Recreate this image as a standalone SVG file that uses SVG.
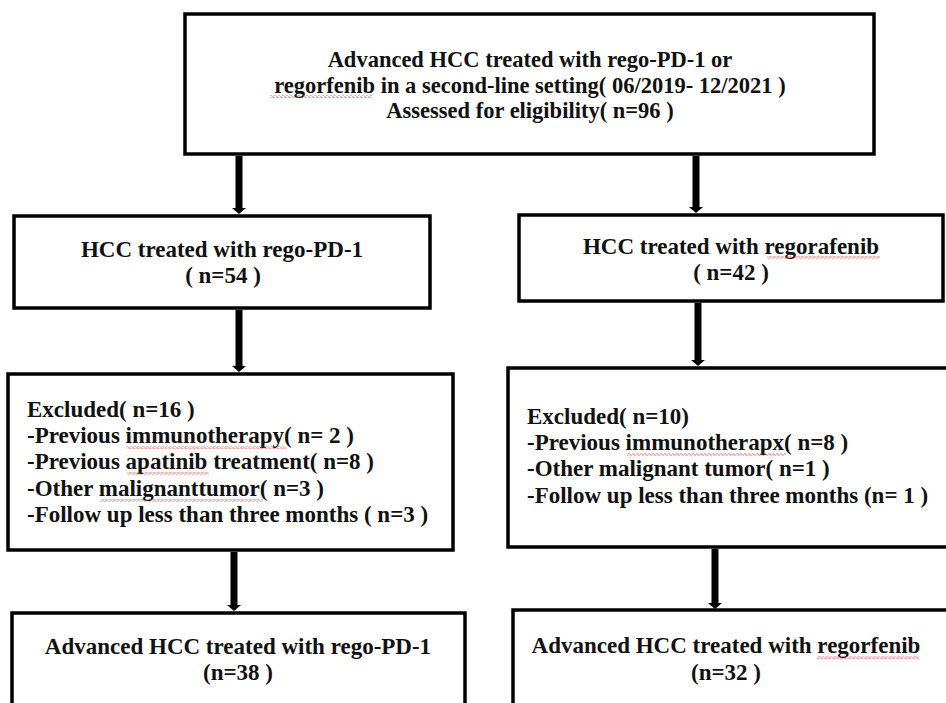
<svg xmlns="http://www.w3.org/2000/svg" width="946" height="703" viewBox="0 0 946 703">
<defs>
<style>
.box{fill:#fff;stroke:#000;stroke-width:3.5}
.t{font-weight:bold;font-size:23px;fill:#111}
.top{font-size:22.5px}
.c{text-anchor:middle}
.arr{stroke:#000;stroke-width:7;fill:none;marker-end:url(#head)}
.sq{fill:url(#squig)}
</style>
<marker id="head" viewBox="0 0 6 14" refX="0" refY="7" markerWidth="6" markerHeight="14" markerUnits="userSpaceOnUse" orient="auto">
<path d="M0,0 L6,7 L0,14 z" fill="#000"/>
</marker>
<pattern id="squig" x="0" y="0" width="4" height="3" patternUnits="userSpaceOnUse">
<polyline points="0,1.5 1,0.5 3,2.5 4,1.5" fill="none" stroke="#e03030" stroke-width="0.8"/>
</pattern>
</defs>
<rect width="946" height="703" fill="#fff"/>

<g id="connectors">
<line class="arr" x1="239" y1="156" x2="239" y2="208"/>
<line class="arr" x1="696" y1="156" x2="696" y2="207"/>
<line class="arr" x1="239" y1="310" x2="239" y2="366"/>
<line class="arr" x1="698" y1="303" x2="698" y2="360"/>
<line class="arr" x1="234" y1="552" x2="234" y2="605"/>
<line class="arr" x1="715" y1="549" x2="715" y2="603"/>
</g>

<g font-family="Liberation Serif, Times New Roman, DejaVu Serif, serif">
<g id="n-top">
<rect class="box" x="185" y="14" width="689" height="140"/>
<text class="t top c" x="530" y="67">Advanced HCC treated with rego-PD-1 or</text>
<text class="t top c" x="530" y="93">regorfenib in a second-line setting( 06/2019- 12/2021 )</text>
<text class="t top c" x="530" y="118">Assessed for eligibility( n=96 )</text>
<rect class="sq" x="270" y="95" width="102" height="3"/>
</g>

<g id="n-rego-pd1">
<rect class="box" x="14" y="216" width="416" height="92"/>
<text class="t c" x="222" y="257">HCC treated with rego-PD-1</text>
<text class="t c" x="223" y="283">( n=54 )</text>
</g>

<g id="n-regorafenib">
<rect class="box" x="519" y="215" width="424" height="86"/>
<text class="t c" x="731" y="254">HCC treated with regorafenib</text>
<text class="t c" x="731" y="280">( n=42 )</text>
<rect class="sq" x="767" y="256" width="113" height="3"/>
</g>

<g id="n-excl-left">
<rect class="box" x="8" y="374" width="445" height="176"/>
<text class="t" x="27" y="417">Excluded( n=16 )</text>
<text class="t" x="27" y="443">-Previous immunotherapy( n= 2 )</text>
<text class="t" x="27" y="469">-Previous apatinib treatment( n=8 )</text>
<text class="t" x="27" y="496">-Other malignanttumor( n=3 )</text>
<text class="t" x="27" y="522">-Follow up less than three months ( n=3 )</text>
<rect class="sq" x="127" y="446" width="159" height="3"/>
<rect class="sq" x="127" y="472" width="82" height="3"/>
<rect class="sq" x="100" y="499" width="163" height="3"/>
</g>

<g id="n-excl-right">
<rect class="box" x="508" y="368" width="450" height="179"/>
<text class="t" x="527" y="424">Excluded( n=10)</text>
<text class="t" x="527" y="450">-Previous immunotherapx( n=8 )</text>
<text class="t" x="527" y="476">-Other malignant tumor( n=1 )</text>
<text class="t" x="527" y="503">-Follow up less than three months (n= 1 )</text>
<rect class="sq" x="627" y="453" width="159" height="3"/>
</g>

<g id="n-final-left">
<rect class="box" x="12" y="613" width="453" height="200"/>
<text class="t c" x="238" y="654">Advanced HCC treated with rego-PD-1</text>
<text class="t c" x="238" y="680">(n=38 )</text>
</g>

<g id="n-final-right">
<rect class="box" x="513" y="610" width="450" height="200"/>
<text class="t c" x="726" y="653">Advanced HCC treated with regorfenib</text>
<text class="t c" x="726" y="680">(n=32 )</text>
<rect class="sq" x="817" y="656" width="102" height="3"/>
</g>
</g>
</svg>
